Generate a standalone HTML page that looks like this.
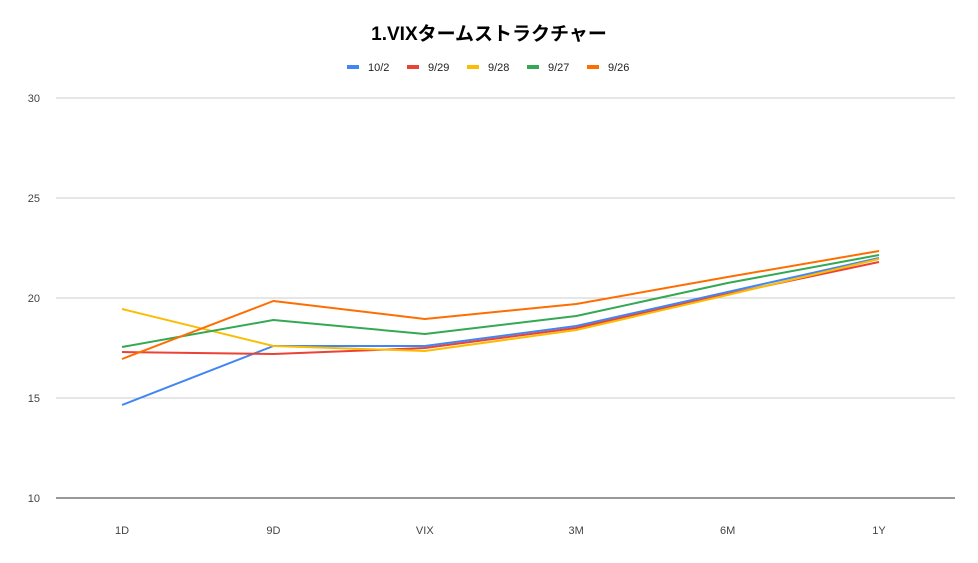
<!DOCTYPE html>
<html><head><meta charset="utf-8"><style>
body{margin:0;background:#fff;font-family:"Liberation Sans","Noto Sans CJK JP",sans-serif}
</style></head><body>
<svg id="chart" width="978" height="558" xmlns="http://www.w3.org/2000/svg" font-family="Liberation Sans, Noto Sans CJK JP, sans-serif">
<rect width="978" height="558" fill="#fff"/>
<text x="489" y="40" text-anchor="middle" font-size="19" font-weight="bold" fill="#000">1.VIXタームストラクチャー</text>
<g id="legend"></g>
<g id="grid"></g>
<g id="series"></g>
<g id="xlabels"></g>
</svg>
<script>
const categories = ["1D","9D","VIX","3M","6M","1Y"];
const seriesNames = ["10/2","9/29","9/28","9/27","9/26"];
const seriesColors = ["#4285f4","#ea4335","#fbbc04","#34a853","#ff6d01"];
const s_10_2 = [14.65,17.6,17.6,18.6,20.3,22.0];
const s_9_29 = [17.3,17.2,17.5,18.5,20.2,21.8];
const s_9_28 = [19.45,17.6,17.35,18.4,20.15,21.95];
const s_9_27 = [17.55,18.9,18.2,19.1,20.75,22.15];
const s_9_26 = [16.95,19.85,18.95,19.7,21.05,22.35];
const yTicks = [10,15,20,25,30];
const seriesData = [s_10_2,s_9_29,s_9_28,s_9_27,s_9_26];

const NS="http://www.w3.org/2000/svg";
const x0=122, x1=879, yMin=10, yMax=30, yBottom=498, yTop=98;
const xScale=i=>x0+(x1-x0)*i/(categories.length-1);
const yScale=v=>yBottom-(v-yMin)/(yMax-yMin)*(yBottom-yTop);
function mk(tag,attrs,parent){const e=document.createElementNS(NS,tag);for(const k in attrs)e.setAttribute(k,attrs[k]);parent.appendChild(e);return e;}

const grid=document.getElementById('grid');
yTicks.forEach(t=>{
  const l=mk('line',{x1:56,x2:955,y1:yScale(t),y2:yScale(t),stroke:t===yMin?'#333':'#ccc','stroke-width':1},grid);
  
  
  const tx=mk('text',{x:40,y:yScale(t)+4,'text-anchor':'end','font-size':11,fill:'#444'},grid);
  tx.textContent=t;
  
  
});
const xl=document.getElementById('xlabels');
categories.forEach((c,i)=>{
  const tx=mk('text',{x:xScale(i),y:534,'text-anchor':'middle','font-size':11,fill:'#444'},xl);
  tx.textContent=c;
  
  
});
const sg=document.getElementById('series');
seriesData.forEach((d,si)=>{
  const pts=d.map((v,i)=>xScale(i)+','+yScale(v)).join(' ');
  const p=mk('polyline',{points:pts,fill:'none',stroke:seriesColors[si],'stroke-width':2,'stroke-linejoin':'round'},sg);
  
  
});
const lg=document.getElementById('legend');
seriesNames.forEach((n,i)=>{
  const x=347+i*60;
  const g=mk('g',{},lg);
  
  
  mk('rect',{x:x,y:65,width:12,height:4,fill:seriesColors[i]},g);
  const t=mk('text',{x:x+21,y:71,'font-size':11,fill:'#222'},g);
  t.textContent=n;
});
</script>
</body></html>
